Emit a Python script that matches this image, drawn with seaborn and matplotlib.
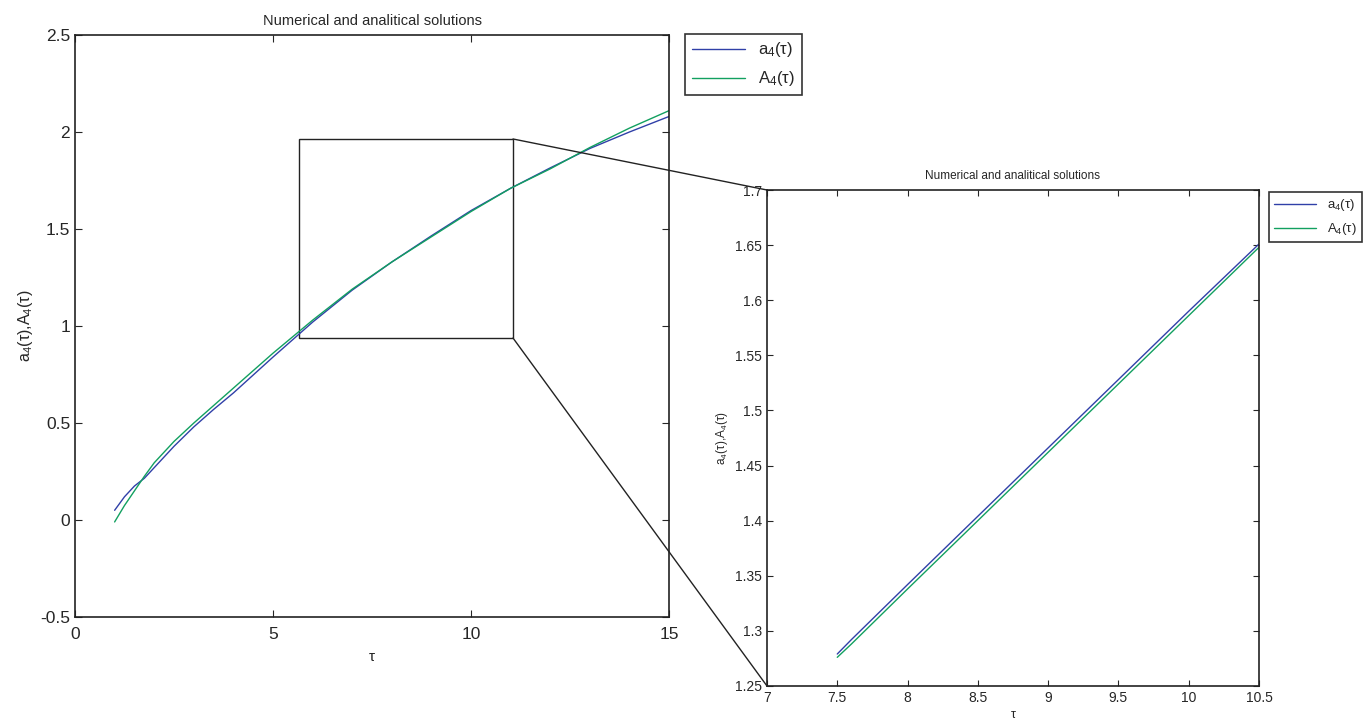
import numpy as np
import pandas as pd
import matplotlib
matplotlib.use("Agg")
import matplotlib.pyplot as plt
from matplotlib.patches import Rectangle, ConnectionPatch
import seaborn as sns

# --- data ---
tau = [1, 1.25, 1.5, 1.75, 2, 2.5, 3, 3.5, 4, 5, 6, 7, 8, 9, 10, 11, 12, 13, 14, 15]
a4 = [0.05, 0.12, 0.175, 0.215, 0.27, 0.38, 0.48, 0.57, 0.655, 0.84, 1.02,
      1.185, 1.33, 1.465, 1.595, 1.71, 1.815, 1.915, 2.0, 2.08]
A4 = [-0.01, 0.075, 0.15, 0.225, 0.295, 0.405, 0.50, 0.59, 0.68, 0.86, 1.03,
      1.19, 1.33, 1.46, 1.59, 1.71, 1.81, 1.92, 2.02, 2.11]

tau_zoom = [7.5, 7.6, 8, 8.5, 9, 9.5, 10, 10.5]
a4_zoom = [1.279, 1.292, 1.342, 1.404, 1.466, 1.528, 1.590, 1.651]
A4_zoom = [1.276, 1.288, 1.338, 1.400, 1.462, 1.524, 1.586, 1.648]

# zoom box drawn on the main axes (tau range, value range)
box_tau = [5.66, 11.06]
box_val = [0.938, 1.964]

labels = ["a$_4$(τ)", "A$_4$(τ)"]
colors = ["#3040a8", "#12a060"]

sns.set_style("ticks")
plt.rcParams["font.family"] = ["Liberation Sans", "DejaVu Sans"]
plt.rcParams["mathtext.default"] = "regular"
plt.rcParams["xtick.direction"] = "in"
plt.rcParams["ytick.direction"] = "in"
plt.rcParams["xtick.top"] = True
plt.rcParams["ytick.right"] = True

fig = plt.figure(figsize=(13.64, 7.23), dpi=100)
ax1 = fig.add_axes([0.055, 0.1466, 0.4355, 0.805])
ax2 = fig.add_axes([0.5623, 0.0512, 0.3607, 0.686])

main = pd.DataFrame({"tau": tau, "a4": a4, "A4": A4})
zoom = pd.DataFrame({"tau": tau_zoom, "a4": a4_zoom, "A4": A4_zoom})

for ax, df in [(ax1, main), (ax2, zoom)]:
    sns.lineplot(data=df, x="tau", y="a4", ax=ax, color=colors[0], lw=1.0, label=labels[0])
    sns.lineplot(data=df, x="tau", y="A4", ax=ax, color=colors[1], lw=1.0, label=labels[1])
    for sp in ax.spines.values():
        sp.set_color("#222222")
        sp.set_linewidth(1.2)

# main axes
ax1.set_xlim(0, 15)
ax1.set_ylim(-0.5, 2.5)
ax1.set_xticks([0, 5, 10, 15])
ax1.set_yticks(np.arange(-0.5, 2.51, 0.5))
ax1.set_yticklabels(["-0.5", "0", "0.5", "1", "1.5", "2", "2.5"])
ax1.tick_params(labelsize=12.5, length=5, width=0.8)
ax1.tick_params(axis="x", pad=7)
ax1.set_title("Numerical and analitical solutions", fontsize=10.5, pad=7)
ax1.set_xlabel("τ", fontsize=11, labelpad=6)
ax1.set_ylabel("a$_4$(τ),A$_4$(τ)", fontsize=11.5)
leg1 = ax1.legend(loc="upper left", bbox_to_anchor=(1.027, 1.002), fontsize=12,
                  frameon=True, fancybox=False, handlelength=3.2, borderaxespad=0,
                  labelspacing=0.6)
leg1.get_frame().set_edgecolor("black")
leg1.get_frame().set_linewidth(1.2)

ax1.add_patch(Rectangle((box_tau[0], box_val[0]), box_tau[1] - box_tau[0],
                        box_val[1] - box_val[0], fill=False, ec="#222222", lw=1.0))

# inset axes
ax2.set_xlim(7, 10.5)
ax2.set_ylim(1.25, 1.7)
ax2.set_xticks(np.arange(7, 10.51, 0.5))
ax2.set_xticklabels(["7", "7.5", "8", "8.5", "9", "9.5", "10", "10.5"])
ax2.set_yticks(np.arange(1.25, 1.701, 0.05))
ax2.set_yticklabels(["1.25", "1.3", "1.35", "1.4", "1.45", "1.5", "1.55", "1.6", "1.65", "1.7"])
ax2.tick_params(labelsize=10, length=4, width=0.8)
ax2.set_title("Numerical and analitical solutions", fontsize=8.5, pad=8)
ax2.set_xlabel("τ", fontsize=9, labelpad=3)
ax2.set_ylabel("a$_4$(τ),A$_4$(τ)", fontsize=8.5)
leg2 = ax2.legend(loc="upper left", bbox_to_anchor=(1.02, 0.996), fontsize=9.5,
                  frameon=True, fancybox=False, handlelength=3.2, borderaxespad=0,
                  labelspacing=0.6)
leg2.get_frame().set_edgecolor("black")
leg2.get_frame().set_linewidth(1.2)

# connecting lines from the zoom box to the inset
for yb, yi in [(box_val[1], 1.7), (box_val[0], 1.25)]:
    con = ConnectionPatch(xyA=(box_tau[1], yb), coordsA=ax1.transData,
                          xyB=(7, yi), coordsB=ax2.transData,
                          color="#222222", lw=1.0)
    fig.add_artist(con)

fig.savefig("out.png", dpi=100)
